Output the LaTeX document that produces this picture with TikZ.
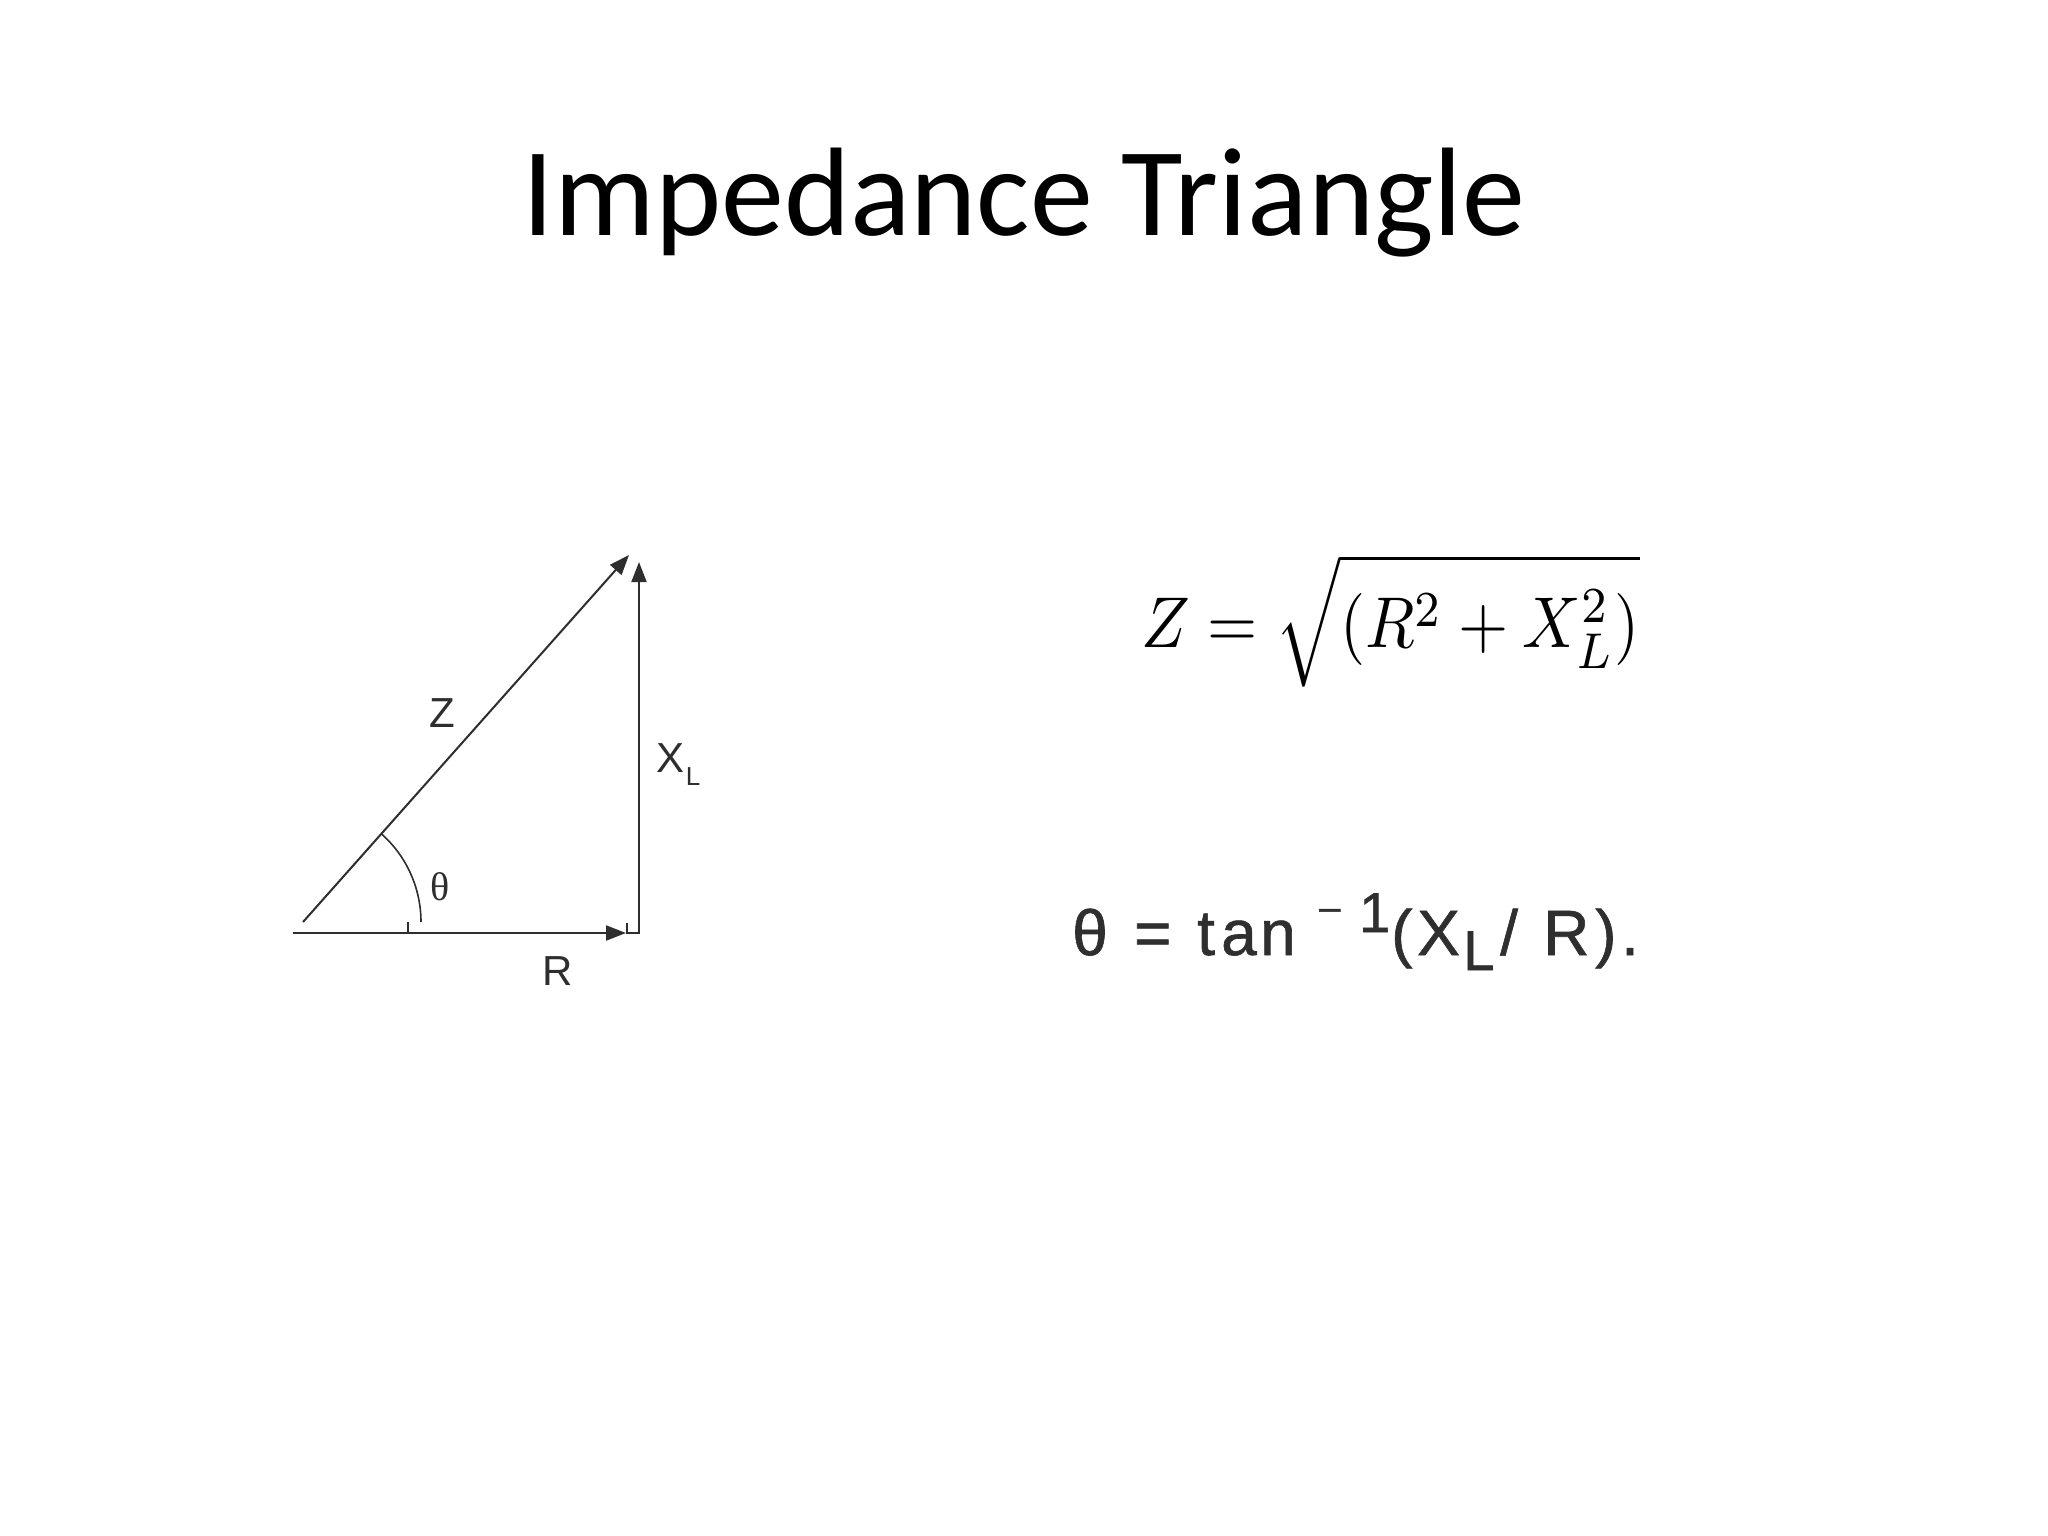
\documentclass[tikz,border=0pt]{standalone}
\usepackage{fontspec}
\usepackage{graphicx}
\setmainfont{Liberation Sans}
\newfontfamily\titlefont{Carlito}
\newfontfamily\serifgreek{Liberation Serif}
\newfontfamily\formfont[FakeBold=1]{Liberation Sans}
\newfontfamily\plainsans{Liberation Sans}
\usetikzlibrary{arrows.meta}
\definecolor{linegray}{HTML}{2E2E2E}
\definecolor{formgray}{HTML}{2F2F2F}
\newcommand\putat[2]{\makebox[0pt][l]{\hspace*{#1pt}#2}}
\newcommand\supsz{\fontsize{56}{56}\selectfont}
\tikzset{
  vec/.style={draw=linegray, line width=2pt, -{Triangle[length=20pt,width=15pt]}},
  thinline/.style={draw=linegray, line width=1.6pt},
  lbl/.style={inner sep=0pt, font=\fontsize{42}{42}\selectfont, text=linegray},
}
\begin{document}
\begin{tikzpicture}[x=1pt,y=-1pt]
\useasboundingbox (0,0) rectangle (2048,1536);
\fill[white] (0,0) rectangle (2048,1536);
% title
\node[inner sep=0pt, anchor=base, font=\titlefont\fontsize{126}{126}\selectfont] (title) at (1024,235) {Impedance Triangle};
% triangle points
\coordinate (O) at (293,933);
\coordinate (H0) at (303,922);
\coordinate (Rtip) at (626,933);
\coordinate (Htip) at (629,555);
\coordinate (C1) at (627,923);
\coordinate (C2) at (627,933);
\coordinate (C3) at (639,933);
\coordinate (Vtip) at (639,562);
\coordinate (T1) at (408,922);
\coordinate (T2) at (408,933);
\draw[vec] (O) -- (Rtip);
\draw[vec] (H0) -- (Htip);
\draw[vec] (C1) -- (C2) -- (C3) -- (Vtip);
\draw[thinline] (T1) -- (T2);
\draw[thinline] (H0) ++(118,0) arc[start angle=0, end angle=-48, radius=118];
% labels
\node[lbl] (Zl) at (442,713) {Z};
\node[lbl, font=\serifgreek\fontsize{40}{40}\selectfont] (thl) at (440,887) {θ};
\node[lbl, anchor=base] (Xl) at (670,772) {X};
\node[lbl, anchor=base, font=\fontsize{26}{26}\selectfont] (Ll) at (693,785) {L};
\node[lbl, anchor=base] (Rl) at (558,985) {R};
% formula 1
\node[inner sep=0pt, anchor=base west, text=black] (f1) at (1141,647)
  {\scalebox{6.45}[7.2]{$\displaystyle Z=\sqrt{(R^2+X_L^2)}$}};
% formula 2
\node[inner sep=0pt, anchor=base west, text=formgray, font=\formfont\fontsize{64}{64}\selectfont] (f2) at (1072,955)
  {\putat{0}{θ}\putat{62}{=}\putat{125}{t}\putat{149}{a}\putat{188}{n}%
   \putat{247}{\raisebox{35pt}{\fontsize{38}{38}\selectfont –}}\putat{287}{\raisebox{23pt}{\supsz 1}}%
   \putat{319}{(}\putat{345}{X}\putat{391}{\raisebox{-15pt}{\supsz L}}%
   \putat{428}{/}\putat{471}{R}\putat{523}{)}\putat{549}{.}\hspace*{563pt}};
\end{tikzpicture}
\end{document}
